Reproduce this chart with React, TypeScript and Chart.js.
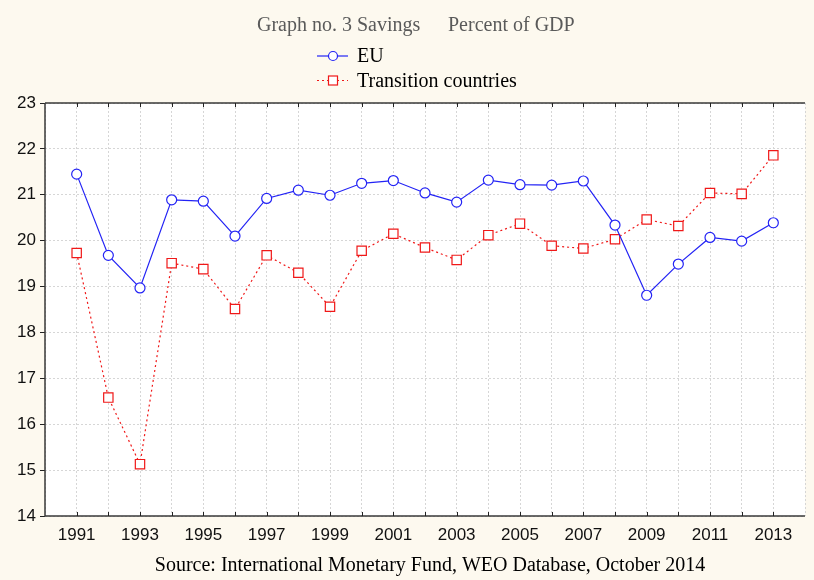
import React, { useEffect, useRef } from 'react';
import { Chart, registerables } from 'chart.js';

Chart.register(...registerables);

const years = [1991, 1992, 1993, 1994, 1995, 1996, 1997, 1998, 1999, 2000, 2001, 2002, 2003, 2004, 2005, 2006, 2007, 2008, 2009, 2010, 2011, 2012, 2013];
const euValues = [21.45, 19.68, 18.97, 20.89, 20.86, 20.1, 20.92, 21.1, 20.99, 21.25, 21.31, 21.04, 20.84, 21.32, 21.22, 21.21, 21.3, 20.34, 18.81, 19.49, 20.07, 19.99, 20.39];
const transitionValues = [19.73, 16.58, 15.13, 19.51, 19.38, 18.51, 19.68, 19.3, 18.56, 19.78, 20.15, 19.85, 19.58, 20.12, 20.37, 19.89, 19.83, 20.03, 20.46, 20.32, 21.04, 21.02, 21.86];
const yMin = 14;
const yMax = 23;
const xMin = 1990;
const xMax = 2014;
const titleLeft = 'Graph no. 3 Savings';
const titleRight = 'Percent of GDP';
const seriesNames = ['EU', 'Transition countries'];
const sourceText = 'Source: International Monetary Fund, WEO Database, October 2014';

const EU_COLOR = '#2323f5';
const TR_COLOR = '#f01818';
const BG = '#fdf9ef';
const SERIF = '"Liberation Serif", "Times New Roman", serif';

const decorPlugin = {
  id: 'decor',
  beforeDraw(chart: any) {
    const { ctx, chartArea: a, width, height } = chart;
    ctx.save();
    ctx.fillStyle = BG;
    ctx.fillRect(0, 0, width, height);
    ctx.fillStyle = '#ffffff';
    ctx.fillRect(a.left, a.top, a.right - a.left, a.bottom - a.top);
    ctx.restore();
  },
  afterDraw(chart: any) {
    const { ctx, chartArea: a } = chart;
    const xs = chart.scales.x;
    ctx.save();
    // axis borders
    ctx.strokeStyle = '#3a3a3a';
    ctx.lineWidth = 1.5;
    ctx.beginPath();
    ctx.moveTo(a.left, a.top);
    ctx.lineTo(a.right, a.top);
    ctx.moveTo(a.left, a.top);
    ctx.lineTo(a.left, a.bottom);
    ctx.lineTo(a.right, a.bottom);
    ctx.stroke();
    // inward ticks on top and bottom
    ctx.lineWidth = 1;
    ctx.strokeStyle = '#222';
    ctx.beginPath();
    for (const yr of years) {
      const px = Math.round(xs.getPixelForValue(yr)) + 0.5;
      ctx.moveTo(px, a.top);
      ctx.lineTo(px, a.top + 4);
      ctx.moveTo(px, a.bottom);
      ctx.lineTo(px, a.bottom - 4);
    }
    ctx.stroke();

    // title
    ctx.fillStyle = '#5a5a5a';
    ctx.font = '20px ' + SERIF;
    ctx.textBaseline = 'middle';
    ctx.textAlign = 'left';
    ctx.fillText(titleLeft, 257, 26);
    ctx.fillText(titleRight, 448, 26);

    // legend
    const lx1 = 317, lx2 = 348, mx = 333, tx = 357;
    const rows = [56, 80.5];
    // EU
    ctx.strokeStyle = EU_COLOR;
    ctx.lineWidth = 1.2;
    ctx.setLineDash([]);
    ctx.beginPath();
    ctx.moveTo(lx1, rows[0]);
    ctx.lineTo(lx2, rows[0]);
    ctx.stroke();
    ctx.fillStyle = '#fff';
    ctx.beginPath();
    ctx.arc(mx, rows[0], 4.5, 0, Math.PI * 2);
    ctx.fill();
    ctx.stroke();
    // Transition
    ctx.strokeStyle = TR_COLOR;
    ctx.setLineDash([2, 3]);
    ctx.beginPath();
    ctx.moveTo(lx1, rows[1]);
    ctx.lineTo(lx2, rows[1]);
    ctx.stroke();
    ctx.setLineDash([]);
    ctx.fillStyle = '#fff';
    ctx.fillRect(mx - 4.5, rows[1] - 4.5, 9, 9);
    ctx.strokeRect(mx - 4.5, rows[1] - 4.5, 9, 9);

    ctx.fillStyle = '#000';
    ctx.font = '20px ' + SERIF;
    ctx.fillText(seriesNames[0], tx, rows[0] + 1);
    ctx.fillText(seriesNames[1], tx, rows[1] + 1);

    // source
    ctx.font = '20px ' + SERIF;
    ctx.textAlign = 'center';
    ctx.fillText(sourceText, 430, 566);
    ctx.restore();
  },
};

export default function App() {
  const ref = useRef<HTMLCanvasElement | null>(null);
  useEffect(() => {
    document.body.style.margin = '0';
    if (!ref.current) return;
    const chart = new Chart(ref.current, {
      type: 'line',
      data: {
        datasets: [
          {
            label: seriesNames[0],
            data: years.map((y, i) => ({ x: y, y: euValues[i] })),
            borderColor: EU_COLOR,
            borderWidth: 1.2,
            pointStyle: 'circle',
            pointRadius: 5,
            pointBorderWidth: 1.2,
            pointBackgroundColor: '#ffffff',
            pointBorderColor: EU_COLOR,
            tension: 0,
          },
          {
            label: seriesNames[1],
            data: years.map((y, i) => ({ x: y, y: transitionValues[i] })),
            borderColor: TR_COLOR,
            borderWidth: 1.2,
            borderDash: [2, 3],
            pointStyle: 'rect',
            pointRadius: 6.6,
            pointBorderWidth: 1.2,
            pointBackgroundColor: '#ffffff',
            pointBorderColor: TR_COLOR,
            tension: 0,
          },
        ],
      },
      options: {
        responsive: false,
        animation: false,
        layout: { padding: { top: 103, left: 0, right: 0, bottom: 0 } },
        plugins: {
          legend: { display: false },
          title: { display: false },
          tooltip: { enabled: false },
        },
        scales: {
          x: {
            type: 'linear',
            min: xMin,
            max: xMax,
            afterFit: (s: any) => { s.height = 64; },
            border: { display: false, dash: [2, 2] },
            grid: { color: '#d6d6d6', drawTicks: false, lineWidth: 1 },
            ticks: {
              stepSize: 1,
              autoSkip: false,
              maxRotation: 0,
              padding: 9,
              color: '#111',
              font: { family: '"Liberation Sans", Arial, sans-serif', size: 17 },
              callback: (v: any) => (Number(v) % 2 === 1 ? String(v) : ''),
            },
          },
          y: {
            min: yMin,
            max: yMax,
            afterFit: (s: any) => { s.width = 45; },
            border: { display: false, dash: [2, 2] },
            grid: { color: '#d6d6d6', drawTicks: true, tickLength: 5, tickColor: '#222', tickBorderDash: [], lineWidth: 1 },
            ticks: {
              stepSize: 1,
              padding: 4,
              color: '#111',
              font: { family: '"Liberation Sans", Arial, sans-serif', size: 17 },
            },
          },
        },
      },
      plugins: [decorPlugin],
    });
    return () => chart.destroy();
  }, []);
  return (
    <div style={{ width: 814, height: 580 }}>
      <canvas ref={ref} width={814} height={580} style={{ display: 'block' }} />
    </div>
  );
}
